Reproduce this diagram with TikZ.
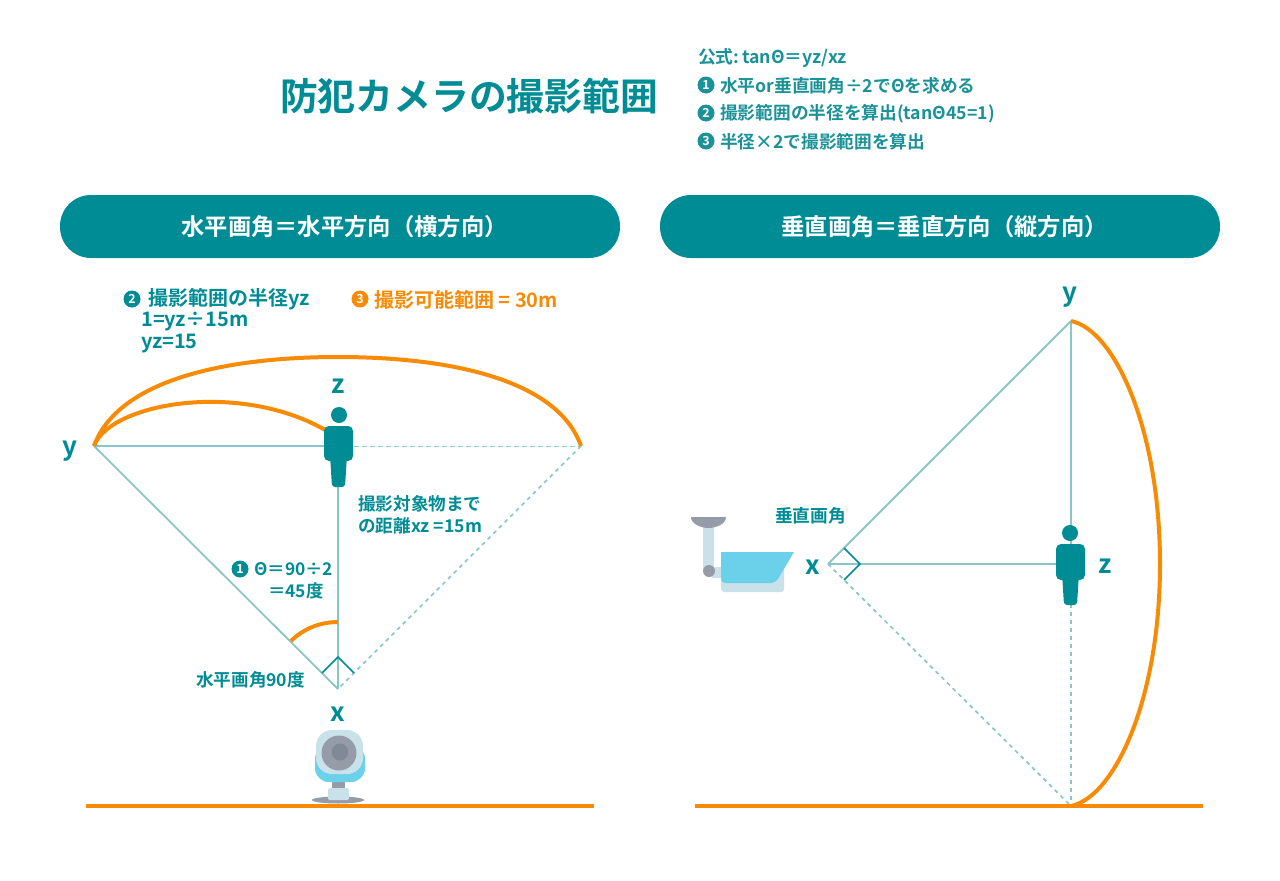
\documentclass[tikz,border=0pt]{standalone}
\usepackage{fontspec}
\setmainfont{Noto Sans CJK JP}[BoldFont={Noto Sans CJK JP Bold}]
\definecolor{tealmain}{HTML}{008C94}
\definecolor{tealtext}{HTML}{1A9298}
\definecolor{tealline}{HTML}{8AC6C8}
\definecolor{orangemain}{HTML}{F88B05}
\definecolor{camgrey}{HTML}{959CA8}
\definecolor{camdark}{HTML}{7F8A96}
\definecolor{campale}{HTML}{C9E2EA}
\definecolor{camblue}{HTML}{6BD0EA}
\tikzset{
    label/.style={text=tealmain,font=\bfseries\fontsize{#1}{#1}\selectfont,inner sep=0pt,anchor=west},
    label/.default=17.7,
    letter/.style={text=tealmain,font=\bfseries\fontsize{26}{26}\selectfont,inner sep=0pt},
    badge/.style={shape=circle,fill=#1,text=white,minimum size=17pt,inner sep=0pt,font=\bfseries\fontsize{12.5}{12.5}\selectfont},
    banner/.style={fill=tealmain,rounded corners=31pt,text=white,minimum width=560pt,minimum height=63pt,inner sep=0pt,font=\bfseries\fontsize{23.3}{23.3}\selectfont},
    sight/.style={draw=tealline,line width=1.8pt},
    dashline/.style={draw=tealline,line width=1.7pt,dash pattern=on 4pt off 4pt},
    thinline/.style={draw=tealline,line width=1pt,dash pattern=on 5pt off 3pt},
    rangeline/.style={draw=orangemain,line width=4pt},
    groundline/.style={draw=orangemain,line width=3.5pt},
    corner/.style={draw=tealmain,line width=1.7pt},
}
\begin{document}
\begin{tikzpicture}[x=1pt,y=-1pt]
    \useasboundingbox (0,0) rectangle (1280,881);

    \node[text=tealmain,font=\bfseries\fontsize{37.8}{38}\selectfont,inner sep=0pt] (Title) at (469,96) {防犯カメラの撮影範囲};
    \node[label,text=tealtext] (Formula) at (698,58) {公式:\,tanΘ＝yz/xz};
    \node[badge=tealtext] (StepOneTop) at (706,85) {1};
    \node[label,text=tealtext] (StepOneText) at (720,86) {水平or垂直画角÷2でΘを求める};
    \node[badge=tealtext] (StepTwoTop) at (706,113) {2};
    \node[label,text=tealtext] (StepTwoText) at (720,114) {撮影範囲の半径を算出(tanΘ45=1)};
    \node[badge=tealtext] (StepThreeTop) at (706,141) {3};
    \node[label,text=tealtext] (StepThreeText) at (720,142) {半径×2で撮影範囲を算出};

    \node[banner] (BannerH) at (340,226.5) {\hspace*{9pt}水平画角＝水平方向（横方向）};
    \node[banner] (BannerV) at (940,226.5) {\hspace*{9pt}垂直画角＝垂直方向（縦方向）};

    \coordinate (HorY) at (94,446);
    \coordinate (HorZ) at (338,446);
    \coordinate (HorEnd) at (581,446);
    \coordinate (HorX) at (338,689);
    \coordinate (ThetaA) at (291,641);
    \coordinate (ThetaB) at (338,622);
    \coordinate (HorTop) at (338,357);
    \coordinate (HorHead) at (327,431);

    \path [sight] (HorY) edge (HorZ);
    \path [sight] (HorY) edge (HorX);
    \path [sight] (HorX) edge (HorZ);
    \path [thinline] (HorZ) edge (HorEnd);
    \path [dashline] (HorEnd) edge (HorX);
    \draw [rangeline] (HorY) .. controls (118,380) and (225,357) .. (HorTop) .. controls (451,357) and (558,380) .. (HorEnd);
    \draw [rangeline] (HorY) .. controls (110,403) and (240,380) .. (HorHead);
    \draw [rangeline] (ThetaA) .. controls (303,629) and (320,622) .. (ThetaB);
    \draw [corner] (322,673) -- (338,657) -- (354,673);

    \begin{scope}[shift={(339,415)}]
        \fill [tealmain] (0,0) circle (8);
        \fill [tealmain,rounded corners=5pt] (-15,11) rectangle (14,46);
        \fill [tealmain,rounded corners=3pt] (-9,40) -- (8,40) -- (6,72) -- (-7,72) -- cycle;
    \end{scope}

    \fill [camgrey] (338,800) ellipse (26 and 3.5);
    \fill [camgrey] (332,782) rectangle (345,791);
    \fill [campale,rounded corners=1.5pt] (328,788) rectangle (349,800);
    \fill [camblue,rounded corners=14pt] (315,745) rectangle (365,782);
    \fill [campale,rounded corners=16pt] (316,730) rectangle (363,774);
    \fill [camgrey] (339,753) circle (17.5);
    \fill [camdark] (340,752) circle (8.5);

    \path [groundline] (86,806) edge (594,806);

    \node[badge=tealmain] (RadiusBadge) at (132,299) {2};
    \node[label=20] (RadiusText) at (148,299.5) {撮影範囲の半径yz};
    \node[label=20] (RadiusCalc) at (141,322) {1=yz÷15m};
    \node[label=20] (RadiusResult) at (141,344) {yz=15};
    \node[badge=orangemain] (RangeBadge) at (360,299) {3};
    \node[label=20,text=orangemain] (RangeText) at (374,299.5) {撮影可能範囲 = 30m};
    \node[letter] (LabelZ) at (338,386) {z};
    \node[letter] (LabelY) at (70,451) {y};
    \node[letter] (LabelX) at (338,714) {x};
    \node[label=17.6] (DistanceA) at (358,504) {撮影対象物まで};
    \node[label=17.6] (DistanceB) at (358,526) {の距離xz =15m};
    \node[badge=tealmain] (ThetaBadge) at (240,569) {1};
    \node[label=17.4] (ThetaText) at (254,569) {Θ＝90÷2};
    \node[label=17.4] (ThetaValue) at (268,591) {＝45度};
    \node[label=17.6] (AngleH) at (196,680) {水平画角90度};

    \coordinate (VerY) at (1071,321);
    \coordinate (VerZ) at (1071,564);
    \coordinate (VerEnd) at (1071,806);
    \coordinate (VerX) at (828,564);

    \path [sight] (VerX) edge (VerY);
    \path [sight] (VerX) edge (VerZ);
    \path [sight] (VerY) edge (VerZ);
    \path [dashline] (VerX) edge (VerEnd);
    \path [dashline] (VerZ) edge (VerEnd);
    \draw [rangeline] (VerY) .. controls (1115,330) and (1160,430) .. (1160,564) .. controls (1160,698) and (1115,797) .. (VerEnd);
    \draw [corner] (844,548) -- (860,564) -- (844,580);

    \begin{scope}[shift={(1070,533)}]
        \fill [tealmain] (0,0) circle (8);
        \fill [tealmain,rounded corners=5pt] (-14,11) rectangle (15,47);
        \fill [tealmain,rounded corners=3pt] (-8,40) -- (9,40) -- (7,72) -- (-6,72) -- cycle;
    \end{scope}

    \fill [campale] (703,526) rectangle (714,572);
    \fill [campale] (712,567) rectangle (724,578);
    \fill [camgrey] (691,517) -- (726,517) .. controls (726,524) and (716,528) .. (708.5,528) .. controls (701,528) and (691,524) .. cycle;
    \fill [camgrey] (709,571) circle (6);
    \fill [campale,rounded corners=3pt] (721,556) rectangle (784,592);
    \fill [camblue] (721,552) -- (794,552) -- (778,579) [rounded corners=4pt] -- (775,583) -- (721,583) [sharp corners] -- cycle;

    \path [groundline] (695,806) edge (1203,806);

    \node[letter] (LabelVY) at (1070,297) {y};
    \node[letter] (LabelVZ) at (1105,566) {z};
    \node[letter] (LabelVX) at (813,567) {x};
    \node[label] (AngleV) at (775,516) {垂直画角};
\end{tikzpicture}
\end{document}
